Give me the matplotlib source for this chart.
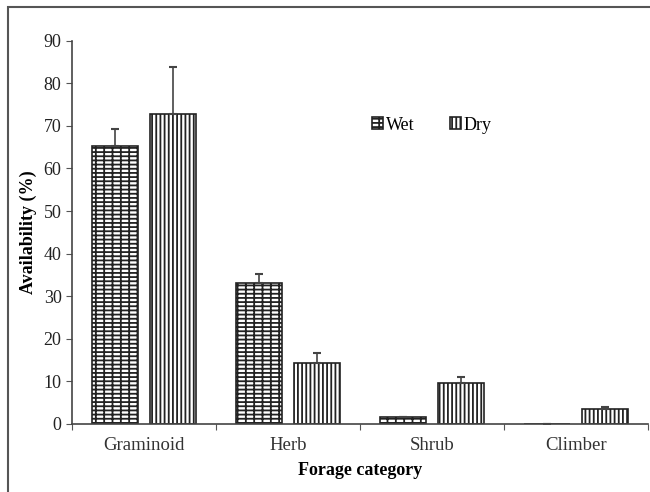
import numpy as np
import matplotlib
matplotlib.use('Agg')
import matplotlib.pyplot as plt
from matplotlib.patches import Rectangle

plt.rcParams['font.family'] = ['Liberation Serif', 'DejaVu Serif']
plt.rcParams['hatch.linewidth'] = 1.3

categories = ['Graminoid', 'Herb', 'Shrub', 'Climber']
wet_mean = [65.3, 33.1, 1.7, 0.0]
wet_err = [4.0, 2.2, 0.0, 0.0]
dry_mean = [72.9, 14.3, 9.6, 3.5]
dry_err = [11.0, 2.4, 1.4, 0.6]

fig = plt.figure(figsize=(6.5, 4.92), dpi=100)
ax = fig.add_axes([72/650, 68/492, 576/650, 383.3/492])

# frame around the whole figure (left and top edges visible)
fig.patches.append(Rectangle((8/650, -0.05), 1.2, 1 - 7/492 + 0.05,
                             transform=fig.transFigure, fill=False,
                             edgecolor='#555555', linewidth=1.5))

x = np.arange(len(categories))
width = 0.32
offset = 0.2

ax.bar(x - offset, wet_mean, width, color='white', edgecolor='#222222',
       hatch='--++', linewidth=1.2, label='Wet')
ax.bar(x + offset, dry_mean, width, color='white', edgecolor='#222222',
       hatch='||||', linewidth=1.2, label='Dry')

ax.errorbar(x - offset, wet_mean, yerr=[np.zeros(len(x)), wet_err], fmt='none',
            ecolor='#444444', elinewidth=1.2, capsize=3, capthick=1.5)
ax.errorbar(x + offset, dry_mean, yerr=[np.zeros(len(x)), dry_err], fmt='none',
            ecolor='#444444', elinewidth=1.2, capsize=3, capthick=1.5)

ax.set_xlim(-0.5, 3.5)
ax.set_ylim(0, 90)
ax.set_yticks(range(0, 91, 10))
ax.set_xticks(np.arange(-0.5, 3.6, 1.0))
ax.set_xticklabels([])
ax.set_xticks(x, minor=True)
ax.set_xticklabels(categories, minor=True)
ax.tick_params(axis='x', which='minor', length=0, pad=9, labelsize=13.5, colors='#333333')
ax.tick_params(axis='x', which='major', length=4, color='#555555')
ax.tick_params(axis='y', length=4, labelsize=13, color='#555555', labelcolor='#222222')

for side in ['top', 'right']:
    ax.spines[side].set_visible(False)
for side in ['left', 'bottom']:
    ax.spines[side].set_color('#444444')
    ax.spines[side].set_linewidth(1.2)

ax.set_xlabel('Forage category', fontsize=13, fontweight='bold', labelpad=6)
ax.set_ylabel('Availability (%)', fontsize=13, fontweight='bold', labelpad=5)

ax.legend(loc='center', bbox_to_anchor=(0.625, 0.78), ncol=2, frameon=False,
          fontsize=13, handlelength=0.6, handleheight=0.6, handletextpad=0.15,
          columnspacing=2.0)

plt.savefig('out.png', dpi=100)
